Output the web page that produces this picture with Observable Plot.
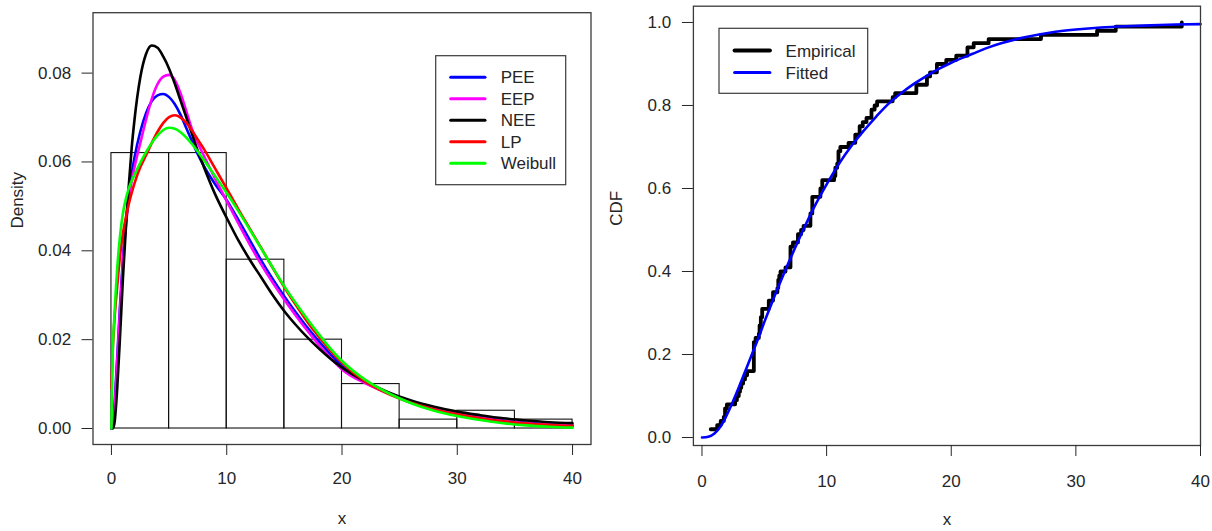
<!DOCTYPE html>
<html><head><meta charset="utf-8">
<script src="https://cdn.jsdelivr.net/npm/d3@7"></script>
<script src="https://cdn.jsdelivr.net/npm/@observablehq/plot@0.6"></script>
<style>
html,body{margin:0;padding:0;background:#fff;}
#wrap{position:relative;width:1212px;height:531px;overflow:hidden;background:#fff;}
#left{position:absolute;left:0;top:0;}
#right{position:absolute;left:600px;top:0;}
</style></head><body><div id="wrap"><div id="left"></div><div id="right"></div></div>
<script>
// ---------- Left panel: histogram + fitted densities ----------
const binStart   = [0, 5, 10, 15, 20, 25, 30, 35];
const binEnd     = [5, 10, 15, 20, 25, 30, 35, 40];
const binDensity = [0.062, 0.062, 0.038, 0.020, 0.010, 0.002, 0.004, 0.002];

const densityX = [0, 0.1, 0.25, 0.5, 0.75, 1, 1.25, 1.5, 1.75, 2, 2.5, 3, 3.5, 4, 4.5, 5, 5.5, 6, 6.5, 7, 7.5, 8,
  9, 10, 11, 12, 13, 14, 15, 16, 17, 18, 19, 20, 22, 24, 26, 28, 30, 32, 34, 36, 38, 40];

const peeDensity = [0, 0.001, 0.005, 0.016, 0.028, 0.0385, 0.0465, 0.0525, 0.0572, 0.0610, 0.0668, 0.0710, 0.0737, 0.0750, 0.0753, 0.0746, 0.0730, 0.0706, 0.0676, 0.0646, 0.0617, 0.0592,
  0.0550, 0.0514, 0.0470, 0.0424, 0.0378, 0.0336, 0.0297, 0.0261, 0.0227, 0.0196, 0.0167, 0.0141, 0.0104, 0.0080, 0.0061, 0.0046, 0.0034, 0.0025, 0.0018, 0.0013, 0.0009, 0.0007];
const eepDensity = [0, 0.0005, 0.004, 0.015, 0.027, 0.0375, 0.0455, 0.0515, 0.0555, 0.0588, 0.0642, 0.0695, 0.0742, 0.0775, 0.0792, 0.0796, 0.0784, 0.0754, 0.0714, 0.0673, 0.0642, 0.0615,
  0.0562, 0.0512, 0.0462, 0.0414, 0.0369, 0.0328, 0.0290, 0.0254, 0.0220, 0.0188, 0.0159, 0.0133, 0.0102, 0.0079, 0.0060, 0.0045, 0.0033, 0.0024, 0.0017, 0.0012, 0.0009, 0.0006];
const neeDensity = [0, 0, 0.001, 0.009, 0.021, 0.034, 0.045, 0.0545, 0.063, 0.0695, 0.0790, 0.0843, 0.0862, 0.0857, 0.0837, 0.0810, 0.0776, 0.0738, 0.0700, 0.0662, 0.0624, 0.0590,
  0.0527, 0.0474, 0.0424, 0.0380, 0.0340, 0.0300, 0.0264, 0.0233, 0.0205, 0.0180, 0.0157, 0.0137, 0.0106, 0.0082, 0.0063, 0.0049, 0.0038, 0.0030, 0.0023, 0.0018, 0.0014, 0.0012];
const lpDensity  = [0.009, 0.017, 0.024, 0.032, 0.039, 0.044, 0.0475, 0.0505, 0.053, 0.0552, 0.0588, 0.0615, 0.0643, 0.0668, 0.0688, 0.0701, 0.0705, 0.0700, 0.0688, 0.0670, 0.0650, 0.0630,
  0.0585, 0.0540, 0.0494, 0.0450, 0.0406, 0.0361, 0.0318, 0.0278, 0.0240, 0.0206, 0.0175, 0.0148, 0.0106, 0.0078, 0.0058, 0.0043, 0.0032, 0.0023, 0.0016, 0.0011, 0.0008, 0.0006];
const weibullDensity = [0, 0.016, 0.025, 0.036, 0.0435, 0.0485, 0.0517, 0.0540, 0.0557, 0.0571, 0.0598, 0.0622, 0.0643, 0.0660, 0.0672, 0.0677, 0.0675, 0.0667, 0.0655, 0.0640, 0.0623, 0.0605,
  0.0568, 0.0530, 0.0490, 0.0448, 0.0405, 0.0362, 0.0320, 0.0282, 0.0246, 0.0212, 0.0180, 0.0152, 0.0110, 0.0080, 0.0057, 0.0040, 0.0028, 0.0019, 0.0012, 0.0007, 0.0004, 0.0002];

const modelNames  = ["PEE", "EEP", "NEE", "LP", "Weibull"];
const modelColors = ["#0000FF", "#FF00FF", "#000000", "#FF0000", "#00FF00"];
const modelValues = [peeDensity, eepDensity, neeDensity, lpDensity, weibullDensity];

const xTicks = [0, 10, 20, 30, 40];
const densityTicks = [0, 0.02, 0.04, 0.06, 0.08];

// ---------- Right panel: empirical vs fitted CDF ----------
const ecdfX = [0.70, 1.22, 1.50, 1.75, 1.85, 2.0, 2.66, 2.8, 2.95, 3.05, 3.15, 3.3, 3.45, 3.62, 4.16, 4.3, 4.56, 4.62, 4.72, 4.83,
  5.36, 5.7, 6.05, 6.12, 6.2, 6.3, 6.7, 7.1, 7.3, 7.7, 7.95, 8.15, 8.7, 8.85, 9.5, 9.65, 10.6, 10.7, 10.85, 10.95, 11.1,
  11.76, 12.3, 12.65, 12.9, 13.2, 13.6, 13.85, 14.05, 15.3, 15.5, 17.2, 18.05, 18.3, 18.85, 19.6, 20.4, 21.3, 21.8, 23.0,
  27.2, 31.7, 33.2, 38.5];
const ecdfY = [0.02, 0.03, 0.04, 0.05, 0.07, 0.08, 0.09, 0.10, 0.11, 0.12, 0.13, 0.14, 0.15, 0.16, 0.23, 0.24, 0.25, 0.27, 0.29, 0.31,
  0.33, 0.35, 0.36, 0.38, 0.39, 0.40, 0.41, 0.46, 0.47, 0.49, 0.50, 0.51, 0.54, 0.58, 0.60, 0.62, 0.63, 0.65, 0.66, 0.69, 0.70,
  0.71, 0.73, 0.75, 0.76, 0.77, 0.79, 0.80, 0.81, 0.82, 0.83, 0.85, 0.87, 0.88, 0.90, 0.91, 0.92, 0.94, 0.95, 0.96,
  0.97, 0.98, 0.99, 1.00];

const fitX = [0, 0.5, 1, 1.5, 2, 2.5, 3, 3.5, 4, 4.5, 5, 5.5, 6, 6.5, 7, 7.5, 8, 9, 10, 11, 12, 13, 14, 15, 16, 17, 18, 19, 20,
  21, 22, 23, 24, 26, 28, 30, 32, 34, 36, 38, 40];
const fitCDF = [0, 0.002, 0.010, 0.027, 0.055, 0.088, 0.124, 0.162, 0.200, 0.238, 0.278, 0.316, 0.354, 0.390, 0.425, 0.459, 0.492,
  0.555, 0.610, 0.660, 0.703, 0.740, 0.774, 0.805, 0.830, 0.852, 0.871, 0.888, 0.903, 0.916, 0.928, 0.940, 0.950, 0.965, 0.976,
  0.983, 0.988, 0.991, 0.993, 0.995, 0.996];

const cdfTicks = [0, 0.2, 0.4, 0.6, 0.8, 1.0];

// ---------- build tables ----------
const bins = binStart.map((s, i) => ({x1: s, x2: binEnd[i], d: binDensity[i]}));
const densitySeries = modelNames.map((name, k) => densityX.map((x, i) => ({x, y: modelValues[k][i], name})));
const ecdf = ecdfX.map((x, i) => ({x, y: ecdfY[i]}));
const fit = fitX.map((x, i) => ({x, y: fitCDF[i]}));

const FONT = '"Liberation Sans", Arial, Helvetica, sans-serif';
const INK = "#262626";
const baseStyle = {fontFamily: FONT, fontSize: "17px", color: INK, background: "white", overflow: "visible"};

const left = Plot.plot({
  width: 600, height: 531,
  marginLeft: 92.5, marginRight: 9.5, marginTop: 12.2, marginBottom: 87,
  style: baseStyle,
  x: {domain: [-1.6, 41.6]},
  y: {domain: [-0.0036, 0.0936]},
  marks: [
    Plot.rect(bins, {x1: "x1", x2: "x2", y1: 0, y2: "d", fill: "none", stroke: "#111", strokeWidth: 1.1}),
    ...densitySeries.map((s, k) => Plot.line(s, {x: "x", y: "y", stroke: modelColors[k], strokeWidth: 2.6, curve: "monotone-x"})),
    Plot.frame({stroke: "#3a3a3a", strokeWidth: 1.3}),
    Plot.axisX({ticks: xTicks, tickSize: 11, tickPadding: 16.6, label: null, fontSize: 17}),
    Plot.axisY({ticks: densityTicks, tickSize: 11, tickPadding: 10.8, tickFormat: d3.format(".2f"), label: null, fontSize: 17}),
    Plot.text(["x"], {frameAnchor: "bottom", dy: 79, fontSize: 17, fill: INK}),
    Plot.text(["Density"], {frameAnchor: "left", dx: -75.5, rotate: -90, fontSize: 17, fill: INK})
  ]
});

const right = Plot.plot({
  width: 612, height: 531,
  marginLeft: 92.9, marginRight: 12, marginTop: 5.7, marginBottom: 86,
  style: baseStyle,
  x: {domain: [-0.69, 40.0]},
  y: {domain: [-0.0192, 1.0392]},
  marks: [
    Plot.line(ecdf, {x: "x", y: "y", curve: "step-after", stroke: "black", strokeWidth: 3.8}),
    Plot.line(fit, {x: "x", y: "y", curve: "monotone-x", stroke: "#0000FF", strokeWidth: 2.6}),
    Plot.frame({stroke: "#3a3a3a", strokeWidth: 1.3}),
    Plot.axisX({ticks: xTicks, tickSize: 11, tickPadding: 18.5, label: null, fontSize: 17}),
    Plot.axisY({ticks: cdfTicks, tickSize: 11, tickPadding: 11.3, tickFormat: d3.format(".1f"), label: null, fontSize: 17}),
    Plot.text(["x"], {frameAnchor: "bottom", dy: 79, fontSize: 17, fill: INK}),
    Plot.text(["CDF"], {frameAnchor: "left", dx: -76.5, rotate: -90, fontSize: 17, fill: INK})
  ]
});

document.getElementById("left").appendChild(left);
document.getElementById("right").appendChild(right);

// ---------- in-plot legends (R style boxed legends) ----------
function boxLegend(svg, box, rows) {
  const g = d3.select(svg).append("g").attr("font-family", FONT).attr("font-size", 17).attr("text-anchor", "start");
  g.append("rect").attr("x", box.x).attr("y", box.y).attr("width", box.w).attr("height", box.h)
    .attr("fill", "white").attr("stroke", "#3a3a3a").attr("stroke-width", 1.2);
  rows.forEach((r, i) => {
    const y = box.rowY + i * box.step;
    g.append("line").attr("x1", box.lx1).attr("x2", box.lx2).attr("y1", y).attr("y2", y)
      .attr("stroke", r.color).attr("stroke-width", r.w).attr("stroke-linecap", "round");
    g.append("text").attr("x", box.tx).attr("y", y).attr("dy", "0.36em").attr("text-anchor", "start")
      .attr("fill", INK).text(r.label);
  });
}
boxLegend(left, {x: 435.7, y: 55.7, w: 130, h: 129, lx1: 450.7, lx2: 485, tx: 500.7, rowY: 77.3, step: 21.5},
  modelNames.map((n, k) => ({label: n, color: modelColors[k], w: 3})));
boxLegend(right, {x: 119, y: 28.3, w: 148.7, h: 65, lx1: 134.6, lx2: 169.9, tx: 185.6, rowY: 50.4, step: 22.1},
  [{label: "Empirical", color: "black", w: 4}, {label: "Fitted", color: "#0000FF", w: 3}]);
</script>
</body></html>
